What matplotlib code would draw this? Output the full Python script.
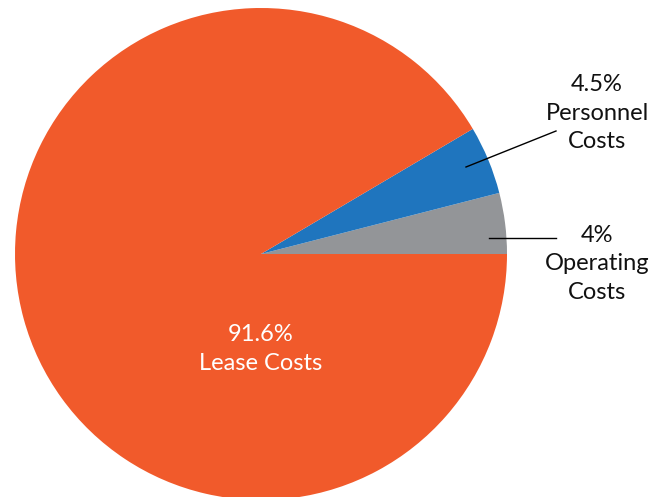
import matplotlib
matplotlib.use('Agg')
import matplotlib.pyplot as plt
import numpy as np

plt.rcParams['font.family'] = ['Lato', 'DejaVu Sans']

categories = ['Operating\nCosts', 'Personnel\nCosts', 'Lease Costs']
shares = [4, 4.5, 91.6]
share_labels = ['4%', '4.5%', '91.6%']
colors = ['#939598', '#1F75BE', '#F15A2B']

W, H = 667, 497
fig = plt.figure(figsize=(W / 100, H / 100), dpi=100)
ax = fig.add_axes([0, 0, 1, 1])

cx, cy, r = 261, H - 254, 246
wedges, _ = ax.pie(shares, colors=colors, startangle=0, counterclock=True,
                   center=(cx, cy), radius=r, frame=True,
                   wedgeprops=dict(linewidth=0))
ax.set_xlim(0, W)
ax.set_ylim(0, H)
ax.set_aspect('equal')
ax.axis('off')

# outside labels with leader lines (image coords -> flipped y)
outside = {
    1: dict(tip=(466, 167), end=(556, 131), text=(597, 113)),
    0: dict(tip=(489, 238), end=(556, 238), text=(597, 264)),
}
for i, pos in outside.items():
    tx, ty = pos['tip']
    ex, ey = pos['end']
    ax.plot([tx, ex], [H - ty, H - ey], color='black', lw=1)
    ax.text(pos['text'][0], H - pos['text'][1], share_labels[i] + '\n' + categories[i],
            ha='center', va='center', fontsize=17, linespacing=1.45, color='#111111')

ax.text(261, H - 349, share_labels[2] + '\n' + categories[2], ha='center', va='center',
        fontsize=17, linespacing=1.45, color='white')

fig.savefig('out.png', dpi=100, facecolor='white')
